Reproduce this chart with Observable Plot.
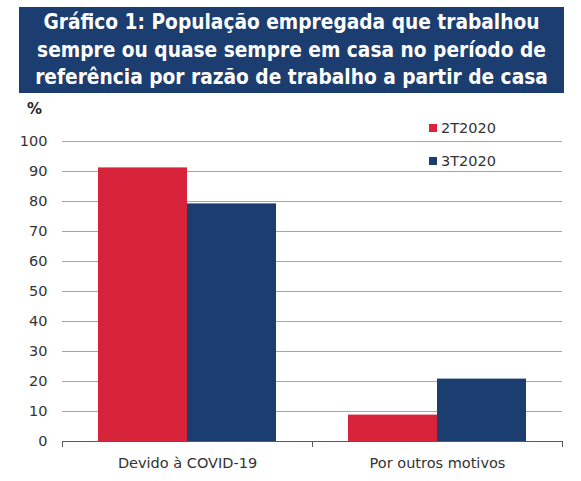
<!DOCTYPE html>
<html>
<head>
<meta charset="utf-8">
<script src="https://cdn.jsdelivr.net/npm/d3@7"></script>
<script src="https://cdn.jsdelivr.net/npm/@observablehq/plot@0.6"></script>
<style>
  body { margin: 0; background: #fff; font-family: "DejaVu Sans", Verdana, sans-serif; }
  #wrap { position: relative; width: 581px; height: 481px; }
  #title {
    position: absolute; left: 19px; top: 7px; width: 545px; height: 86px;
    background: #1b3d6f; color: #fff; font-weight: bold; text-align: center;
    font-family: "DejaVu Sans Condensed", "DejaVu Sans", sans-serif;
    font-size: 20.7px; line-height: 27.5px; padding-top: 2px; box-sizing: border-box;
  }
  #chart { position: absolute; left: 0; top: 0; }
  #pct { position: absolute; left: 27px; top: 100px; font-size: 15px; font-weight: bold; color: #262626; }
  #legend { position: absolute; left: 429px; top: 111px; font-size: 14.5px; color: #333; }
  .item { display: flex; align-items: center; height: 33px; }
  .swatch { width: 8px; height: 8px; margin-right: 4px; }
</style>
</head>
<body>
<div id="wrap">
  <div id="chart"></div>
  <div id="title">Gráfico 1: População empregada que trabalhou<br>sempre ou quase sempre em casa no período de<br>referência por razão de trabalho a partir de casa</div>
  <div id="pct">%</div>
  <div id="legend"></div>
</div>
<script>
const categories = ["Devido à COVID-19", "Por outros motivos"];
const series = ["2T2020", "3T2020"];
const values2T = [91.2, 8.8];
const values3T = [79.2, 20.8];
const yTicks = [0, 10, 20, 30, 40, 50, 60, 70, 80, 90, 100];
const colors = ["#d8243a", "#1b3d6f"];

const data = [];
categories.forEach((c, i) => {
  data.push({ category: c, series: series[0], value: values2T[i] });
  data.push({ category: c, series: series[1], value: values3T[i] });
});

const plot = Plot.plot({
  width: 581,
  height: 481,
  marginTop: 141,
  marginBottom: 40,
  marginLeft: 62,
  marginRight: 19,
  style: { fontFamily: "DejaVu Sans, Verdana, sans-serif", fontSize: "14.5px", color: "#333" },
  fx: { domain: categories, padding: 0, label: null, axis: null },
  x: { domain: series, paddingInner: 0, paddingOuter: 0.389, axis: null },
  y: { domain: [0, 100], ticks: yTicks, tickSize: 0, tickPadding: 15, label: null },
  color: { domain: series, range: colors },
  marks: [
    Plot.gridY(yTicks.slice(1), { stroke: "#a6a6a6", strokeOpacity: 1 }),
    Plot.barY(data, { fx: "category", x: "series", y: "value", fill: "series" }),
    Plot.ruleY([0], { stroke: "#595959" }),
    Plot.frame({ anchor: "left", insetTop: 300, insetBottom: -5, stroke: "#595959" }),
    Plot.frame({ anchor: "right", insetTop: 300, insetBottom: -5, stroke: "#595959" }),
    Plot.axisFx({ anchor: "bottom", tickSize: 0, tickPadding: 16, label: null, fontSize: 14.5 })
  ]
});
document.getElementById("chart").append(plot);

const legend = document.getElementById("legend");
series.forEach((s, i) => {
  const item = document.createElement("div");
  item.className = "item";
  item.innerHTML = `<span class="swatch" style="background:${colors[i]}"></span>${s}`;
  legend.append(item);
});
</script>
</body>
</html>
